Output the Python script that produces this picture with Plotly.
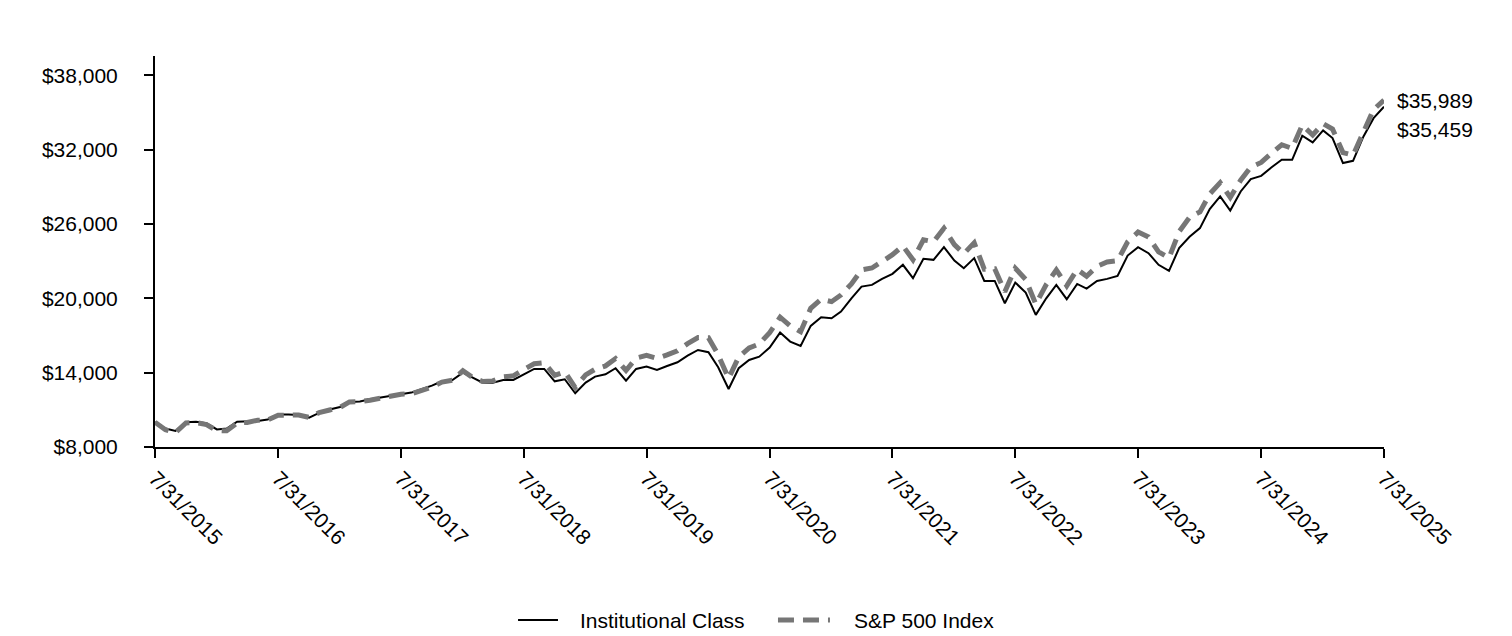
import pandas as pd
import plotly.graph_objects as go

dates = pd.date_range("2015-07-31", "2025-07-31", freq="ME")

institutional = [
    10000, 9486, 9290, 9990, 10040, 9910, 9420, 9490, 10040, 10040, 10100, 10210,
    10615, 10615, 10585, 10370, 10750, 11020, 11230, 11630, 11680, 11850, 11980, 12120,
    12280, 12390, 12660, 12950, 13300, 13410, 14000, 13600, 13190, 13190, 13410, 13410,
    13870, 14300, 14300, 13300, 13465, 12335, 13195, 13680, 13870, 14355, 13355, 14300,
    14485, 14220, 14540, 14840, 15370, 15830, 15645, 14435, 12680, 14355, 15025, 15290,
    16030, 17230, 16503, 16156, 17770, 18470, 18390, 18925, 20000, 20945, 21080, 21566,
    21970, 22700, 21620, 23180, 23100, 24125, 23045, 22430, 23240, 21400, 21400, 19600,
    21270, 20460, 18660, 20000, 21080, 19925, 21160, 20785, 21400, 21566, 21810, 23450,
    24125, 23640, 22700, 22210, 24045, 24960, 25660, 27200, 28220, 27080, 28620, 29620,
    29880, 30580, 31175, 31175, 33115, 32575, 33545, 32930, 30910, 31095, 33060, 34535,
    35459,
]

sp500 = [
    10000, 9397, 9165, 9938, 9968, 9811, 9324, 9312, 9943, 9982, 10162, 10188,
    10564, 10579, 10581, 10388, 10772, 10986, 11195, 11639, 11653, 11773, 11939, 12013,
    12260, 12298, 12551, 12844, 13238, 13385, 14152, 13630, 13284, 13334, 13656, 13741,
    14252, 14717, 14801, 13789, 14070, 12799, 13824, 14268, 14545, 15134, 14173, 15172,
    15391, 15148, 15431, 15766, 16338, 16831, 16824, 15440, 13533, 15268, 15995, 16313,
    17233, 18472, 17770, 17297, 19191, 19928, 19727, 20272, 21159, 22289, 22445, 22968,
    23515, 24230, 23103, 24723, 24552, 25652, 24326, 23599, 24474, 22340, 22380, 20534,
    22427, 21512, 19531, 21113, 22293, 21009, 22328, 21783, 22582, 22934, 23033, 24556,
    25344, 24941, 23751, 23253, 25376, 26528, 26974, 28414, 29329, 28133, 29528, 30588,
    30961, 31714, 32392, 32097, 33982, 33173, 34095, 33652, 31757, 31541, 33525, 35231,
    35989,
]

series_names = ["Institutional Class", "S&P 500 Index"]
tick_dates = pd.date_range("2015-07-31", "2025-07-31", freq="12ME")
tick_labels = [f"7/31/{d.year}" for d in tick_dates]
y_ticks = [8000, 14000, 20000, 26000, 32000, 38000]
y_labels = [f"${v:,}" for v in y_ticks]

FONT = "Liberation Sans, Arial, sans-serif"
FS = 21
INST_LINE = dict(color="#000000", width=2)
SP_LINE = dict(color="#767676", width=5, dash="16px,9px")

fig = go.Figure()
fig.add_trace(go.Scatter(x=dates, y=institutional, mode="lines",
                         name=series_names[0], line=INST_LINE, showlegend=False))
fig.add_trace(go.Scatter(x=dates, y=sp500, mode="lines",
                         name=series_names[1], line=SP_LINE, showlegend=False))

# end-value labels
fig.add_annotation(x=1.0, xref="paper", xshift=11, y=sp500[-1], yref="y",
                   text=f"${sp500[-1]:,}", showarrow=False, xanchor="left",
                   yanchor="middle", font=dict(size=FS, color="#000", family=FONT))
fig.add_annotation(x=1.0, xref="paper", xshift=11, y=institutional[-1], yref="y",
                   text=f"${institutional[-1]:,}", showarrow=False, xanchor="left",
                   yanchor="middle", yshift=-23, font=dict(size=FS, color="#000", family=FONT))

# legend drawn below the axis
LEG_Y = -0.4425
legend_items = [
    (series_names[0], INST_LINE, 0.2954, 0.3279, 0.3442),
    (series_names[1], SP_LINE, 0.5069, 0.5492, 0.5671),
]
for name, ln, x0, x1, xt in legend_items:
    fig.add_shape(type="line", xref="paper", yref="paper", x0=x0, x1=x1,
                  y0=LEG_Y, y1=LEG_Y, line=ln)
    fig.add_annotation(x=xt, y=LEG_Y, xref="paper", yref="paper", text=name,
                       showarrow=False, xanchor="left", yanchor="middle",
                       font=dict(size=FS, color="#000", family=FONT))

fig.update_layout(
    width=1512, height=636,
    margin=dict(l=147, r=136, t=48, b=197, autoexpand=False),
    paper_bgcolor="white", plot_bgcolor="white",
    font=dict(family=FONT, size=FS, color="#000"),
    showlegend=False,
    xaxis=dict(
        range=[dates[0], dates[-1]], tickvals=list(tick_dates), ticktext=tick_labels,
        tickangle=45, showgrid=False, zeroline=False, showline=True, automargin=False,
        linecolor="#000", linewidth=2, ticks="outside", ticklen=9, tickwidth=2,
        tickcolor="#000", tickfont=dict(size=FS, family=FONT),
    ),
    yaxis=dict(
        range=[8000, 39550], tickvals=y_ticks, ticktext=y_labels, automargin=False,
        showgrid=False, zeroline=False, showline=True, linecolor="#000", linewidth=2,
        ticks="outside", ticklen=9, tickwidth=2, tickcolor="#000", ticklabelstandoff=22,
        tickfont=dict(size=FS, family=FONT),
    ),
)

fig.write_html("out.html")
